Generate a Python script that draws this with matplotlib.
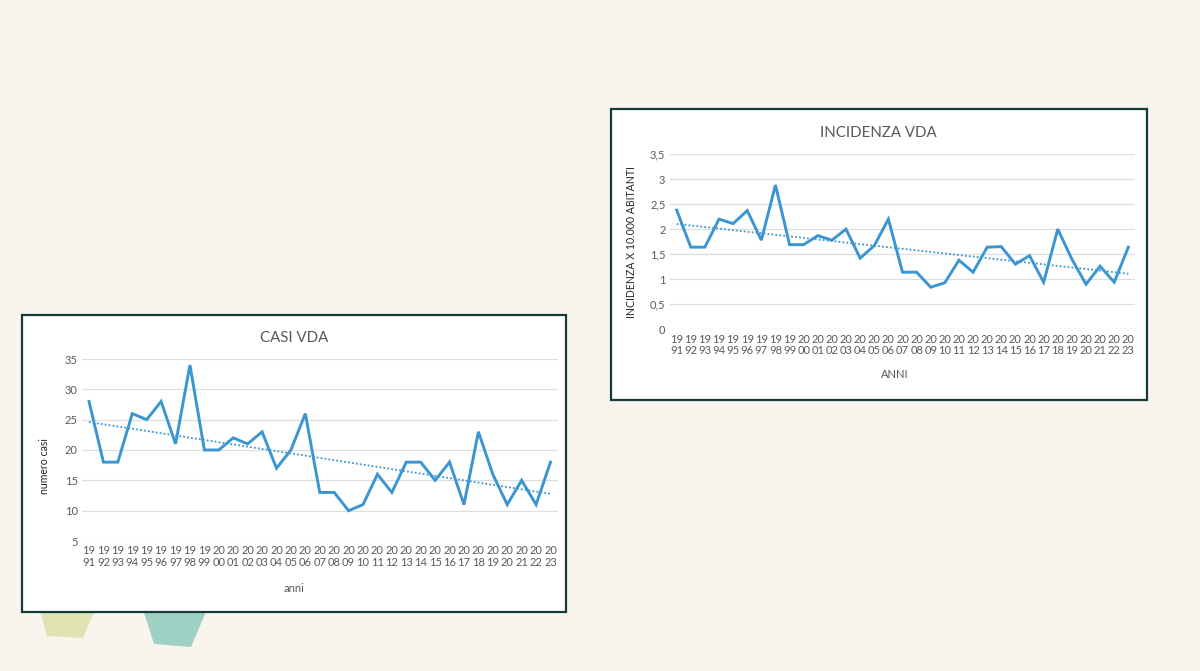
from matplotlib import use as mplUse
mplUse('Agg')
from matplotlib import pyplot as plt
from matplotlib.patches import Rectangle, Polygon
from matplotlib.ticker import FuncFormatter
import numpy as np

plt.rcParams['font.family'] = ['Lato', 'DejaVu Sans']

years = list(range(1991, 2024))
casi = [28, 18, 18, 26, 25, 28, 21, 34, 20, 20, 22, 21, 23, 17, 20, 26, 13,
        13, 10, 11, 16, 13, 18, 18, 15, 18, 11, 23, 16, 11, 15, 11, 18]
incidenza = [2.38, 1.64, 1.64, 2.20, 2.11, 2.37, 1.78, 2.88, 1.69, 1.69, 1.87,
             1.78, 2.00, 1.42, 1.67, 2.20, 1.14, 1.14, 0.84, 0.93, 1.38, 1.14,
             1.64, 1.65, 1.30, 1.47, 0.94, 2.00, 1.40, 0.90, 1.26, 0.94, 1.64]
year_labels = [str(y)[:2] + "\n" + str(y)[2:] for y in years]

W, H = 1200, 671
BG = '#FAF4EE'
BLUE = '#3A95D3'
GREY = '#595959'
GRID = '#DEDEDE'
BORDER = '#163A35'


def fx(px):
    return px / W


def fy(py):
    return 1 - py / H


def box(fig, x0, y0, x1, y1):
    r = Rectangle((fx(x0), fy(y1)), fx(x1) - fx(x0), fy(y0) - fy(y1),
                  transform=fig.transFigure, facecolor='white',
                  edgecolor=BORDER, lw=1.6, zorder=0.5)
    fig.patches.append(r)


def shape(fig, pts, color):
    p = Polygon([(fx(x), fy(y)) for x, y in pts], closed=True,
                transform=fig.transFigure, facecolor=color, edgecolor='none',
                zorder=0.2)
    fig.patches.append(p)


def drawChart(fig, rect, values, ylim, ystep, title, xlabel, ylabel,
              title_xy, xlabel_xy, ylabel_xy, fmt):
    ax = fig.add_axes(rect)
    ax.set_zorder(2)
    ax.patch.set_alpha(0)
    x = np.arange(len(values))
    ax.plot(x, values, color=BLUE, lw=2.1, solid_joinstyle='miter', zorder=3)
    k, b = np.polyfit(x, values, 1)
    ax.plot(x, k * x + b, color=BLUE, lw=1.3, ls=(0, (1, 1.2)), zorder=3)
    ax.set_xlim(-0.5, len(values) - 0.5)
    ax.set_ylim(*ylim)
    ax.set_yticks(np.arange(ylim[0], ylim[1] + ystep / 2, ystep))
    ax.yaxis.set_major_formatter(FuncFormatter(fmt))
    ax.set_xticks(x)
    ax.set_xticklabels(year_labels, linespacing=1.05)
    ax.grid(axis='y', color=GRID, lw=0.9)
    ax.set_axisbelow(True)
    for s in ax.spines.values():
        s.set_visible(False)
    ax.tick_params(length=0, colors=GREY, labelsize=8)
    ax.tick_params(axis='x', pad=3.2)
    ax.tick_params(axis='y', pad=3)
    fig.text(fx(title_xy[0]), fy(title_xy[1]), title, ha='center', va='center',
             fontsize=10.8, color=GREY, zorder=3)
    fig.text(fx(xlabel_xy[0]), fy(xlabel_xy[1]), xlabel, ha='center',
             va='center', fontsize=8, color=GREY, zorder=3)
    fig.text(fx(ylabel_xy[0]), fy(ylabel_xy[1]), ylabel, ha='center',
             va='center', rotation=90, fontsize=7.6, color='#262626', zorder=3)
    return ax


fig = plt.figure(figsize=(W / 100, H / 100), dpi=100, facecolor=BG)

shape(fig, [(37, 600), (99, 600), (83, 638), (47, 636)], '#E0E3B0')
shape(fig, [(140, 600), (211, 600), (191, 647), (154, 644)], '#9ED1C3')

box(fig, 22, 315, 566, 612)
box(fig, 611, 109, 1147, 400)

drawChart(fig, [fx(81.8), fy(541), fx(557.7) - fx(81.8), fy(359) - fy(541)],
          casi, (5, 35), 5, 'CASI VDA', 'anni', 'numero casi',
          (294, 338), (294, 588), (45, 466),
          lambda v, p: '%d' % v)

drawChart(fig, [fx(669.6), fy(329.3), fx(1135.4) - fx(669.6),
                fy(154) - fy(329.3)],
          incidenza, (0, 3.5), 0.5, 'INCIDENZA VDA', 'ANNI',
          'INCIDENZA X 10.000 ABITANTI',
          (878, 133), (895, 375), (632, 242),
          lambda v, p: ('%g' % v).replace('.', ','))

fig.savefig('out.png', dpi=100, facecolor=BG)
